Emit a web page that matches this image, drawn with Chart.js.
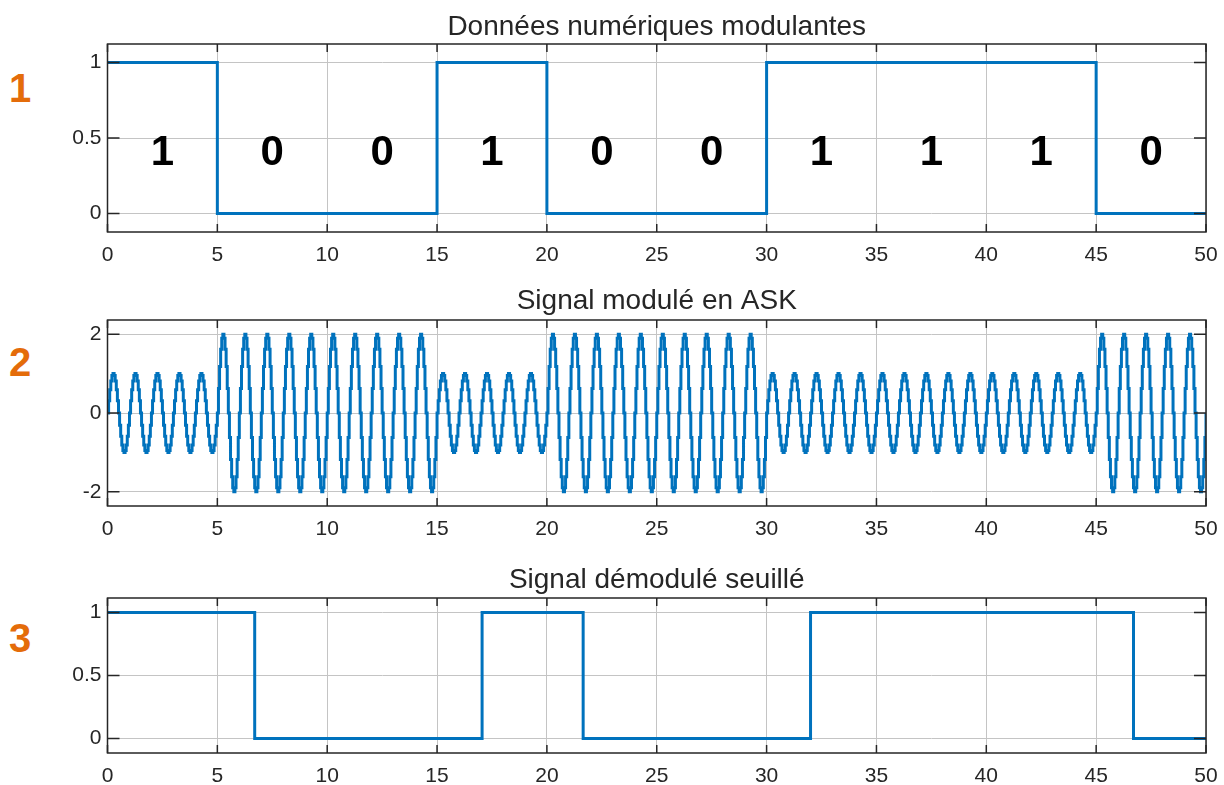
<!DOCTYPE html>
<html>
<head>
<meta charset="utf-8">
<script src="https://cdn.jsdelivr.net/npm/chart.js@4"></script>
<style>
  body { margin: 0; background: #fff; width: 1224px; height: 785px; position: relative; overflow: hidden; }
  .panel { position: absolute; left: 0; width: 1224px; }
  .num { position: absolute; left: 20px; transform: translate(-50%, -50%); color: #E46C0A;
         font: bold 40px "Liberation Sans", Arial, sans-serif; line-height: 1; }
</style>
</head>
<body>
<div class="num" style="top:88px">1</div>
<div class="num" style="top:362px">2</div>
<div class="num" style="top:638px">3</div>

<div class="panel" style="top:0px;height:270px"><canvas id="c1"></canvas></div>
<div class="panel" style="top:280px;height:260px"><canvas id="c2"></canvas></div>
<div class="panel" style="top:560px;height:225px"><canvas id="c3"></canvas></div>

<script>
// données
const bits = [1, 0, 0, 1, 0, 0, 1, 1, 1, 0];
const bitEdges = [0, 5, 10, 15, 20, 25, 30, 35, 40, 45, 50];
const askAmplitudes = [1, 2, 2, 1, 2, 2, 1, 1, 1, 2];
// une période de la porteuse, échantillons (20 par unité de temps)
const carrierCycle = [0, 0.31, 0.59, 0.81, 0.95, 1, 0.95, 0.81, 0.59, 0.31,
                      0, -0.31, -0.59, -0.81, -0.95, -1, -0.95, -0.81, -0.59, -0.31];
const samplesPerUnit = 20;
const demodTimes = [0, 6.7, 17.05, 21.65, 32, 46.7, 50];
const demodLevels = [1, 0, 1, 0, 1, 0, 0];
const xTicks = [0, 5, 10, 15, 20, 25, 30, 35, 40, 45, 50];
const yTicksBin = [0, 0.5, 1];
const yTicksAsk = [-2, 0, 2];
const titles = ['Données numériques modulantes', 'Signal modulé en ASK', 'Signal démodulé seuillé'];

const FONT = '"Liberation Sans", Arial, sans-serif';
const BLUE = '#0072BD';
const INK = '#262626';

// signal binaire (bloqueur d'ordre 0)
const bitPoints = bits.map((b, i) => ({ x: bitEdges[i], y: b }));
bitPoints.push({ x: bitEdges[bitEdges.length - 1], y: bits[bits.length - 1] });

// signal ASK construit à partir des amplitudes et de la période lue
const askPoints = [];
askAmplitudes.forEach((amp, k) => {
    const n = (bitEdges[k + 1] - bitEdges[k]) * samplesPerUnit;
    for (let i = 0; i < n; i++) {
        askPoints.push({ x: bitEdges[k] + i / samplesPerUnit, y: amp * carrierCycle[i % carrierCycle.length] });
    }
});
askPoints.push({ x: 50, y: carrierCycle[0] });

const demodPoints = demodTimes.map((t, i) => ({ x: t, y: demodLevels[i] }));

// cadre, graduations intérieures, titre, étiquettes de bits
const matlabBox = {
    id: 'matlabBox',
    afterDraw(chart, args, opts) {
        const { ctx, chartArea: a, scales: { x, y } } = chart;
        ctx.save();
        ctx.strokeStyle = INK;
        ctx.lineWidth = 1.5;
        ctx.beginPath();
        opts.xt.forEach(v => {
            const px = x.getPixelForValue(v);
            ctx.moveTo(px, a.bottom); ctx.lineTo(px, a.bottom - 8);
            ctx.moveTo(px, a.top); ctx.lineTo(px, a.top + 8);
        });
        opts.yt.forEach(v => {
            const py = y.getPixelForValue(v);
            ctx.moveTo(a.left, py); ctx.lineTo(a.left + 12, py);
            ctx.moveTo(a.right, py); ctx.lineTo(a.right - 12, py);
        });
        ctx.stroke();
        ctx.strokeRect(a.left, a.top, a.right - a.left, a.bottom - a.top);

        ctx.fillStyle = INK;
        ctx.font = '28px ' + FONT;
        ctx.textAlign = 'center';
        ctx.textBaseline = 'alphabetic';
        ctx.fillText(opts.title, (a.left + a.right) / 2, a.top - opts.titleGap);

        if (opts.bitLabels) {
            ctx.fillStyle = '#000';
            ctx.font = 'bold 42px ' + FONT;
            ctx.textBaseline = 'middle';
            opts.bitLabels.forEach((b, i) => {
                const cx = x.getPixelForValue((bitEdges[i] + bitEdges[i + 1]) / 2);
                ctx.fillText(String(b), cx, y.getPixelForValue(0.4));
            });
        }
        ctx.restore();
    }
};

function makeChart(id, points, yMin, yMax, yTicks, title, pad, xHeight, titleGap, bitLabels) {
    return new Chart(document.getElementById(id), {
        type: 'line',
        data: {
            datasets: [{
                data: points,
                borderColor: BLUE,
                borderWidth: 3,
                pointRadius: 0,
                stepped: true,
                fill: false
            }]
        },
        options: {
            responsive: true,
            maintainAspectRatio: false,
            animation: false,
            parsing: false,
            layout: { padding: { top: pad, right: 18, bottom: 0, left: 0 } },
            plugins: {
                legend: { display: false },
                tooltip: { enabled: false },
                matlabBox: { xt: xTicks, yt: yTicks, title: title, titleGap: titleGap, bitLabels: bitLabels }
            },
            scales: {
                x: {
                    type: 'linear',
                    min: 0, max: 50,
                    afterBuildTicks: s => { s.ticks = xTicks.map(v => ({ value: v })); },
                    afterFit: s => { s.height = xHeight; s.paddingLeft = 0; s.paddingRight = 0; },
                    grid: { color: '#c4c4c4', lineWidth: 1, drawTicks: false },
                    border: { display: false },
                    ticks: { color: INK, font: { family: FONT, size: 21 }, padding: 11, maxRotation: 0, autoSkip: false,
                             callback: v => String(v) }
                },
                y: {
                    type: 'linear',
                    min: yMin, max: yMax,
                    afterBuildTicks: s => { s.ticks = yTicks.map(v => ({ value: v })); },
                    afterFit: s => { s.width = 107.5; s.paddingTop = 0; s.paddingBottom = 0; },
                    grid: { color: '#c4c4c4', lineWidth: 1, drawTicks: false },
                    border: { display: false },
                    ticks: { color: INK, font: { family: FONT, size: 21 }, padding: 6, callback: v => String(v) }
                }
            }
        },
        plugins: [matlabBox]
    });
}

makeChart('c1', bitPoints, -0.122, 1.122, yTicksBin, titles[0], 44, 38, 9, bits);
makeChart('c2', askPoints, -2.36, 2.36, yTicksAsk, titles[1], 40, 34, 11, null);
makeChart('c3', demodPoints, -0.114, 1.114, yTicksBin, titles[2], 38, 32, 10, null);
</script>
</body>
</html>
